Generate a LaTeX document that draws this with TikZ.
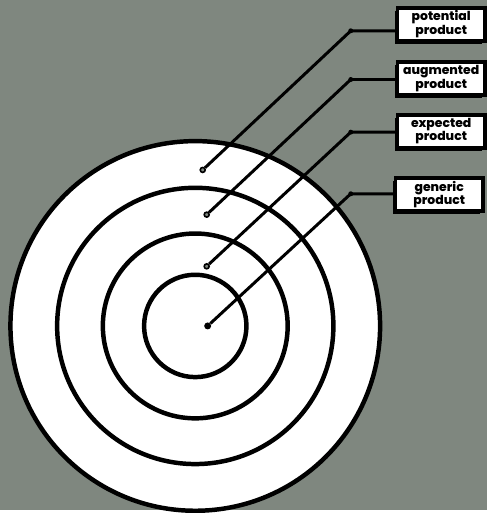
\documentclass[tikz,border=0pt]{standalone}
\usepackage{fontspec}
\newfontfamily\tagfont{Poppins}[UprightFont={* Bold}, BoldFont={* ExtraBold}]
\usetikzlibrary{positioning,shadows}
\definecolor{SlateBg}{HTML}{7F877F}
\tikzset{
  tagbox/.style={draw=black, line width=4pt, fill=white, inner sep=0pt,
    minimum width=88pt, minimum height=33pt, align=center,
    font=\tagfont\bfseries\fontsize{12.5}{11}\selectfont,
    drop shadow={shadow xshift=-2.5pt, shadow yshift=-3pt, fill=black, opacity=1}},
  ring/.style={line width=4.5pt},
  leader/.style={line width=3pt, line join=round},
  pin/.style={circle, draw=black, fill=SlateBg, line width=1.6pt, inner sep=0pt, minimum size=5pt},
  bullseye/.style={circle, fill=black, inner sep=0pt, minimum size=7pt},
  knee/.style={circle, fill=black, inner sep=0pt, minimum size=5pt}
}
\begin{document}
\begin{tikzpicture}[x=1pt, y=-1pt]
  \fill[SlateBg] (0,0) rectangle (490,513);
  % target rings
  \fill[white] (196.5,328) circle[radius=186pt];
  \foreach \r in {186,139,93,51.5}
    \draw[ring] (196.5,328) circle[radius=\r pt];
  % labels
  \node[tagbox] (potential) at (444,24.5) {potential\\product};
  \node[tagbox] (augmented) at (444,79) {augmented\\product};
  \node[tagbox] (expected) at (444,132) {expected\\product};
  \node[tagbox] (generic) at (442,196) {generic\\product};
  % pins and knees
  \node[pin] (pinP) at (204,171) {};
  \node[pin] (pinA) at (208,216) {};
  \node[pin] (pinE) at (208,268) {};
  \node[bullseye] (pinG) at (209,328) {};
  \node[knee] (kneeP) at (353,31) {};
  \node[knee] (kneeA) at (353,80) {};
  \node[knee] (kneeE) at (353,133) {};
  \node[knee] (kneeG) at (353,195) {};
  % leaders
  \draw[leader] (pinP) -- (kneeP.center) -- (kneeP.center -| potential.west);
  \draw[leader] (pinA) -- (kneeA.center) -- (kneeA.center -| augmented.west);
  \draw[leader] (pinE) -- (kneeE.center) -- (kneeE.center -| expected.west);
  \draw[leader] (pinG) -- (kneeG.center) -- (kneeG.center -| generic.west);
\end{tikzpicture}
\end{document}
